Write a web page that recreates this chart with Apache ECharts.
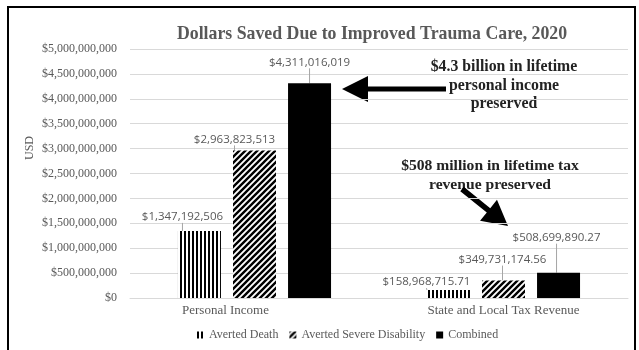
<!DOCTYPE html>
<html>
<head>
<meta charset="utf-8">
<style>
  html, body { margin: 0; padding: 0; background: #fff; }
  #chart { width: 639px; height: 350px; }
</style>
<script src="https://cdn.jsdelivr.net/npm/echarts@6/dist/echarts.min.js"></script>
</head>
<body>
<div id="chart"></div>
<script>
// Chart data
const categories = ['Personal Income', 'State and Local Tax Revenue'];
const seriesNames = ['Averted Death', 'Averted Severe Disability', 'Combined'];
const avertedDeath = [1347192506, 158968715.71];
const avertedSevereDisability = [2963823513, 349731174.56];
const combined = [4311016019, 508699890.27];
const yTicks = { min: 0, max: 5000000000, step: 500000000 };

const titleText = 'Dollars Saved Due to Improved Trauma Care, 2020';
const noteIncome = '$4.3 billion in lifetime\npersonal income\npreserved';
const noteTax = '$508 million in lifetime tax\nrevenue preserved';

// ---- fills ----
function stripePattern() {
  const c = document.createElement('canvas');
  c.width = 4; c.height = 4;
  const g = c.getContext('2d');
  g.fillStyle = '#fff'; g.fillRect(0, 0, 4, 4);
  g.fillStyle = '#000'; g.fillRect(0, 0, 2, 4);
  return { image: c, repeat: 'repeat' };
}
function hatchPattern() {
  const s = 6;
  const c = document.createElement('canvas');
  c.width = s; c.height = s;
  const g = c.getContext('2d');
  g.fillStyle = '#fff'; g.fillRect(0, 0, s, s);
  g.strokeStyle = '#000'; g.lineWidth = 2.4;
  g.beginPath();
  g.moveTo(-1, s + 1); g.lineTo(s + 1, -1);
  g.moveTo(-1, 1); g.lineTo(1, -1);
  g.moveTo(s - 1, s + 1); g.lineTo(s + 1, s - 1);
  g.stroke();
  return { image: c, repeat: 'repeat' };
}
const fills = [stripePattern(), hatchPattern(), '#000'];

function money(v) {
  const dec = Number.isInteger(v) ? 0 : 2;
  return '$' + v.toLocaleString('en-US', { minimumFractionDigits: dec, maximumFractionDigits: dec });
}

// label nudges [dx, dy] per series, per category
const nudges = [
  [[-17, -3], [-22, 3]],
  [[-20, 0], [-1, -10]],
  [[0, -10], [-2, -24]]
];

// arrow outline from tail to tip
function arrow(tail, tip, shaftW, headL, headW) {
  const dx = tip[0] - tail[0], dy = tip[1] - tail[1];
  const len = Math.hypot(dx, dy);
  const ux = dx / len, uy = dy / len, nx = -uy, ny = ux;
  const bx = tip[0] - ux * headL, by = tip[1] - uy * headL;
  const h = shaftW / 2, w = headW / 2;
  return [
    [tail[0] + nx * h, tail[1] + ny * h],
    [bx + nx * h, by + ny * h],
    [bx + nx * w, by + ny * w],
    tip,
    [bx - nx * w, by - ny * w],
    [bx - nx * h, by - ny * h],
    [tail[0] - nx * h, tail[1] - ny * h]
  ];
}

const serif = '"Liberation Serif", serif';
const sans = '"Open Sans", sans-serif';
const gray = '#595959';
const values = [avertedDeath, avertedSevereDisability, combined];

const chart = echarts.init(document.getElementById('chart'));
chart.setOption({
  backgroundColor: '#fff',
  animation: false,
  textStyle: { fontFamily: serif },
  title: {
    text: titleText,
    left: 367, top: 20, textAlign: 'center',
    textStyle: { fontFamily: serif, fontWeight: 'bold', fontSize: 17.8, color: gray }
  },
  grid: { left: 130, right: 11, top: 49, bottom: 52 },
  legend: {
    data: seriesNames,
    left: 192, top: 324,
    icon: 'rect', itemWidth: 7, itemHeight: 7, itemGap: 11,
    textStyle: { fontFamily: serif, fontSize: 12, color: gray }
  },
  xAxis: {
    type: 'category',
    data: categories,
    axisLine: { lineStyle: { color: '#d9d9d9' } },
    axisTick: { show: false },
    axisLabel: {
      margin: 6,
      fontFamily: serif, fontSize: 13, color: gray,
      formatter: (v, i) => i === 0 ? '{a|' + v + '}' : '{b|' + v + '}',
      rich: {
        a: { fontFamily: serif, fontSize: 13, color: gray, padding: [0, 58, 0, 0] },
        b: { fontFamily: serif, fontSize: 13, color: gray }
      }
    }
  },
  yAxis: {
    type: 'value',
    min: yTicks.min, max: yTicks.max, interval: yTicks.step,
    axisLine: { show: false },
    axisTick: { show: false },
    splitLine: { lineStyle: { color: '#d9d9d9' } },
    axisLabel: {
      margin: 13,
      fontFamily: serif, fontSize: 12, color: gray,
      formatter: v => money(v)
    }
  },
  series: seriesNames.map((name, si) => ({
    name,
    type: 'bar',
    data: values[si],
    barWidth: 43,
    barGap: '28%',
    itemStyle: { color: fills[si] },
    label: {
      show: true, position: 'top', distance: 5,
      fontFamily: sans, fontSize: 11.5, color: gray,
      formatter: p => money(p.value)
    },
    labelLine: { show: true, lineStyle: { color: '#a6a6a6', width: 1 } },
    labelLayout: p => ({ dx: nudges[si][p.dataIndex][0], dy: nudges[si][p.dataIndex][1] })
  })),
  graphic: [
    {
      type: 'rect', silent: true, z: 100,
      shape: { x: 8, y: 7, width: 627, height: 360 },
      style: { fill: 'none', stroke: '#000', lineWidth: 2 }
    },
    {
      type: 'text', silent: true, rotation: Math.PI / 2,
      x: 30, y: 148,
      style: { text: 'USD', fontFamily: serif, fontSize: 12, fill: gray, textAlign: 'center', textVerticalAlign: 'middle' }
    },
    {
      type: 'text', silent: true,
      x: 504, y: 58,
      style: { text: noteIncome, fontFamily: serif, fontWeight: 'bold', fontSize: 15.8, lineHeight: 18.5, fill: '#222', textAlign: 'center' }
    },
    {
      type: 'text', silent: true,
      x: 490, y: 157,
      style: { text: noteTax, fontFamily: serif, fontWeight: 'bold', fontSize: 15.6, lineHeight: 18.5, fill: '#222', textAlign: 'center' }
    },
    {
      type: 'polygon', silent: true,
      shape: { points: arrow([446, 89], [342, 89], 5, 26, 26) },
      style: { fill: '#000' }
    },
    {
      type: 'polygon', silent: true,
      shape: { points: arrow([462, 189], [508, 226], 5.5, 25, 27) },
      style: { fill: '#000' }
    }
  ]
});
</script>
</body>
</html>
